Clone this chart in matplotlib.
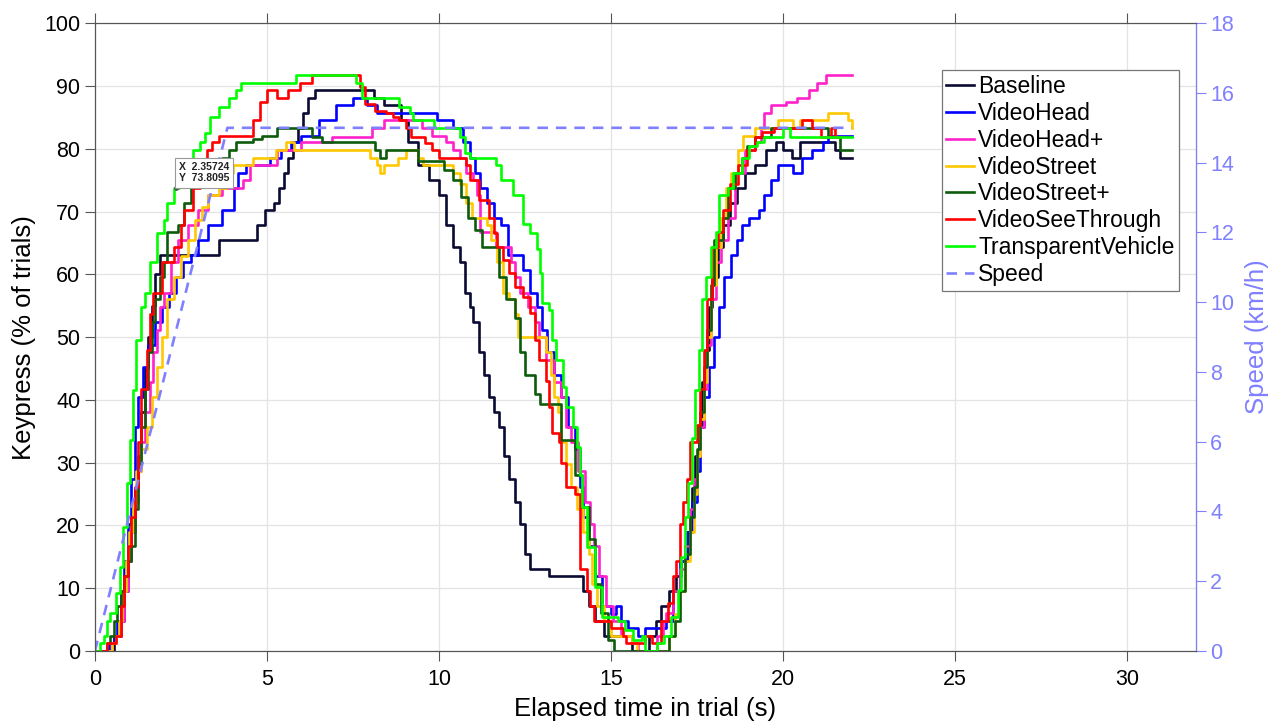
import matplotlib
matplotlib.use("Agg")
import matplotlib.pyplot as plt
import numpy as np

plt.rcParams['font.family'] = ['Liberation Sans', 'DejaVu Sans']

# (time s, keypress %) change points for each condition
baseline = [(0, 0), (0.55, 2.4), (0.75, 4.8), (0.85, 9.5), (0.95, 14.3), (1.05, 19), (1.15, 26), (1.25, 31),
            (1.35, 38), (1.45, 45), (1.55, 50), (1.65, 55), (1.75, 60), (1.9, 63.1), (3.6, 65.5), (4.7, 67.9),
            (4.95, 70.2), (5.2, 71.4), (5.35, 73.8), (5.5, 76.2), (5.6, 78.6), (5.75, 81), (5.9, 83.3),
            (6.05, 85.7), (6.2, 88.1), (6.4, 89.3), (8.1, 88.1), (8.4, 86.9), (8.9, 84.5), (9.1, 81), (9.4, 77.4),
            (9.7, 75), (10.0, 72.6), (10.2, 67.9), (10.4, 64.3), (10.6, 61.9), (10.75, 57.1), (10.9, 54.8),
            (11.0, 52.4), (11.15, 47.6), (11.3, 44), (11.45, 40.5), (11.6, 38.1), (11.75, 35.7), (11.9, 31),
            (12.05, 27.4), (12.2, 23.8), (12.35, 20.2), (12.5, 15.5), (12.65, 13.1), (13.2, 11.9), (14.2, 9.5),
            (14.35, 7.1), (14.55, 4.8), (14.8, 2.4), (15.6, 0), (16.1, 2.4), (16.3, 4.8), (16.45, 7.1),
            (16.7, 9.5), (16.9, 11.9), (17.05, 14.3), (17.2, 19), (17.35, 26), (17.45, 31), (17.55, 36),
            (17.65, 42.9), (17.75, 48), (17.85, 54.8), (17.95, 59.5), (18.1, 64.3), (18.25, 67.9), (18.45, 71.4),
            (18.65, 73.8), (18.9, 76.2), (19.2, 77.4), (19.5, 79.8), (19.8, 81), (20.0, 79.8), (20.25, 78.6),
            (20.5, 81), (21.5, 79.8), (21.65, 78.6), (22.0, 78.6)]

video_head = [(0, 0), (0.4, 1.2), (0.55, 2.4), (0.65, 4.8), (0.75, 9.5), (0.85, 14.3), (0.95, 20.2), (1.05, 27.4),
              (1.15, 35.7), (1.25, 40.5), (1.4, 45.2), (1.55, 48.8), (1.75, 52.4), (1.95, 54.8), (2.15, 57.1),
              (2.35, 59.5), (2.55, 61.9), (2.8, 63.1), (3.0, 65.5), (3.3, 67.9), (3.7, 70.2), (4.05, 73.8),
              (4.15, 76.2), (4.4, 77.4), (5.1, 78.6), (5.4, 79.8), (5.7, 81), (6.0, 82.1), (6.5, 84.5),
              (7.0, 86.9), (7.5, 88.1), (7.9, 86.9), (8.2, 85.7), (9.95, 84.5), (10.4, 83.3), (10.7, 81),
              (10.9, 78.6), (11.05, 76.2), (11.2, 73.8), (11.4, 71.4), (11.6, 69), (11.8, 67.9), (12.0, 63.1),
              (12.45, 60.7), (12.65, 57.1), (12.85, 54.8), (13.0, 51.2), (13.15, 47.6), (13.35, 44),
              (13.55, 40.5), (13.75, 35.7), (13.95, 32.1), (14.1, 26.2), (14.2, 21.4), (14.35, 16.7),
              (14.55, 11.9), (14.75, 7.1), (15.0, 5.9), (15.15, 7.1), (15.3, 4.8), (15.5, 3.6), (15.8, 2.4),
              (16.0, 3.6), (16.6, 4.8), (16.8, 9.5), (17.0, 14.3), (17.2, 19), (17.35, 23.8), (17.5, 28.6),
              (17.6, 35.7), (17.7, 40.5), (17.85, 45.2), (18.0, 50), (18.15, 54.8), (18.3, 59.5), (18.5, 63.1),
              (18.65, 65.5), (18.8, 67.9), (19.0, 69), (19.3, 70.2), (19.45, 72.6), (19.65, 75), (19.85, 77.4),
              (20.3, 76.2), (20.55, 78.6), (20.85, 79.8), (21.15, 81), (21.3, 82.1), (22.0, 82.1)]

video_head_plus = [(0, 0), (0.5, 1.2), (0.62, 2.4), (0.75, 4.8), (0.85, 9.5), (0.95, 14.3), (1.05, 19),
                   (1.15, 23.8), (1.25, 28.6), (1.35, 33.3), (1.45, 38.1), (1.6, 42.9), (1.7, 47.6), (1.8, 51.2),
                   (1.9, 54.8), (2.0, 57.1), (2.2, 61.9), (2.4, 65.5), (2.7, 67.9), (3.0, 70.2), (3.3, 72.6),
                   (3.7, 73.8), (4.3, 75), (4.5, 77.4), (5.3, 79.8), (6.0, 81), (6.9, 81.8), (8.05, 83.3),
                   (8.4, 84.5), (9.5, 83.3), (9.8, 82.1), (10.2, 81), (10.4, 79.8), (10.6, 78.6), (10.8, 76.2),
                   (11.0, 75), (11.1, 72.6), (11.2, 66.7), (11.65, 64.3), (12.1, 61.9), (12.2, 59.5),
                   (12.35, 57.1), (12.6, 54.8), (12.8, 52.4), (12.9, 50), (13.1, 46.4), (13.35, 42.9),
                   (13.55, 40.5), (13.7, 35.7), (13.85, 33.3), (14.05, 28.6), (14.25, 23.8), (14.4, 20.2),
                   (14.5, 16.7), (14.65, 11.9), (14.85, 7.1), (15.05, 4.8), (15.3, 2.4), (15.6, 1.2), (15.8, 0),
                   (16.35, 2.4), (16.5, 4.8), (16.6, 6), (16.8, 9.5), (17.0, 13.1), (17.15, 16.7), (17.3, 22.6),
                   (17.4, 27.4), (17.5, 31), (17.6, 35.7), (17.7, 41.7), (17.8, 48.8), (17.9, 56), (18.05, 61.9),
                   (18.2, 65.5), (18.4, 69), (18.6, 76.2), (18.9, 79.8), (19.2, 81), (19.35, 83.3), (19.45, 85.7),
                   (19.65, 86.9), (20.1, 87.5), (20.4, 88.1), (20.75, 89.3), (21.0, 90.5), (21.25, 91.7),
                   (22.0, 91.7)]

video_street = [(0, 0), (0.5, 1.2), (0.6, 2.4), (0.7, 4.8), (0.8, 9.5), (0.9, 14.3), (1.0, 19), (1.1, 23.8),
                (1.2, 28.6), (1.35, 32.1), (1.5, 35.7), (1.65, 40.5), (1.8, 45.2), (1.95, 50), (2.1, 56),
                (2.3, 59.5), (2.5, 62.9), (2.7, 65.5), (2.9, 68.6), (3.1, 70.7), (3.3, 72.6), (3.6, 73.8),
                (3.85, 76.2), (4.0, 77.4), (4.6, 78.6), (5.25, 79.8), (5.55, 81), (5.8, 79.8), (8.0, 78.6),
                (8.2, 77.4), (8.3, 76.2), (8.4, 77.4), (8.8, 78.6), (9.05, 79.8), (9.4, 78.6), (9.55, 77.4),
                (10.4, 76.2), (10.6, 74.4), (10.8, 71.4), (10.95, 69), (11.4, 67.9), (11.5, 65.5), (11.7, 61.9),
                (11.85, 57.1), (12.05, 56), (12.2, 53.6), (12.3, 50), (12.95, 50), (13.1, 47.6), (13.25, 44),
                (13.35, 40.5), (13.45, 38.1), (13.55, 33.3), (13.7, 29.8), (13.85, 26.2), (14.0, 22.6),
                (14.2, 19), (14.35, 15.5), (14.45, 10.7), (14.6, 7.1), (14.8, 4.8), (15.0, 2.4), (15.6, 1.2),
                (15.75, 0), (16.7, 2.4), (16.85, 5.9), (17.0, 9.5), (17.15, 14.3), (17.3, 19), (17.4, 25),
                (17.5, 31), (17.6, 36.9), (17.7, 42.9), (17.8, 50), (17.9, 58.3), (18.05, 64.3), (18.2, 69),
                (18.35, 73.8), (18.5, 76.2), (18.7, 79.8), (18.85, 82.1), (19.2, 83.3), (19.85, 84.5),
                (20.3, 83.3), (20.5, 84.5), (21.3, 85.7), (21.9, 84.5), (22.0, 83.3)]

video_street_plus = [(0, 0), (0.35, 1.2), (0.45, 2.4), (0.55, 4.8), (0.65, 7.1), (0.75, 9.5), (0.85, 11.9),
                     (0.95, 14.3), (1.05, 16.7), (1.15, 22.6), (1.25, 29.8), (1.35, 35.7), (1.45, 41.7),
                     (1.55, 47.6), (1.65, 52.4), (1.75, 56), (1.9, 59.5), (2.0, 61.9), (2.1, 66.7), (2.4, 67.9),
                     (2.6, 71.4), (2.8, 75), (2.9, 77.4), (3.7, 78.6), (3.9, 79.8), (4.1, 81), (4.6, 81.5),
                     (4.85, 82.1), (5.3, 83.3), (6.3, 81.8), (6.6, 81), (8.15, 79.8), (8.3, 78.6), (8.45, 79.8),
                     (9.4, 78.1), (10.15, 76.6), (10.4, 75), (10.65, 72.3), (10.85, 69), (11.05, 67),
                     (11.25, 64.3), (11.75, 59.5), (11.95, 56), (12.2, 53), (12.35, 47.6), (12.5, 44),
                     (12.8, 41), (12.95, 39.3), (13.55, 33.6), (13.95, 28), (14.15, 23), (14.35, 17.9),
                     (14.55, 10.7), (14.7, 6), (14.9, 1.7), (15.1, 0), (16.7, 2.4), (16.85, 4.8), (17.0, 9.5),
                     (17.15, 15.5), (17.3, 21.4), (17.4, 26.2), (17.5, 32.1), (17.6, 38.1), (17.7, 45.2),
                     (17.8, 51.2), (17.9, 58.3), (18.0, 65.5), (18.25, 69), (18.4, 73.8), (18.6, 76.2),
                     (18.8, 78.6), (18.95, 80.4), (19.2, 81.8), (19.65, 83.3), (21.3, 81.8), (21.65, 79.8),
                     (22.0, 79.8)]

video_see_through = [(0, 0), (0.35, 1.2), (0.6, 2.4), (0.75, 7.1), (0.85, 11.9), (0.95, 16.7), (1.05, 21.4),
                     (1.15, 26.2), (1.25, 33.3), (1.35, 41.7), (1.5, 48), (1.6, 53.6), (1.7, 57.1), (1.95, 61.9),
                     (2.3, 64.3), (2.5, 67.9), (2.6, 70.2), (2.85, 73.8), (3.05, 76.2), (3.25, 79.8), (3.4, 81),
                     (3.6, 82.1), (4.6, 84.5), (4.8, 87.4), (5.0, 89.3), (5.3, 88.1), (5.6, 89.3), (5.95, 90.5),
                     (6.3, 91.7), (7.4, 91.7), (7.7, 89.8), (7.85, 87.2), (8.15, 86), (8.45, 85.7), (8.65, 85),
                     (8.85, 84.5), (9.05, 83.3), (9.2, 81.8), (9.6, 80.9), (9.8, 79.8), (10.0, 78.6),
                     (10.8, 77.4), (10.9, 75), (11.15, 71.8), (11.45, 69), (11.6, 66.5), (11.7, 64.3),
                     (11.85, 62.3), (12.05, 60.2), (12.2, 58), (12.45, 56.4), (12.65, 53.8), (12.8, 49.5),
                     (12.9, 46.3), (13.1, 43), (13.2, 38.9), (13.3, 34.7), (13.5, 33.3), (13.55, 30),
                     (13.7, 26.2), (13.95, 25), (14.1, 13.1), (14.3, 9.5), (14.4, 7.1), (14.5, 4.8),
                     (14.9, 4.8), (15.0, 3.6), (15.35, 2.4), (15.45, 1.2), (16.0, 2.4), (16.2, 1.2),
                     (16.45, 4.8), (16.65, 7.6), (16.8, 11.9), (16.9, 14.3), (17.0, 20.2), (17.1, 23.8),
                     (17.2, 27.4), (17.3, 33.3), (17.5, 36), (17.6, 41.7), (17.7, 48), (17.8, 56), (17.95, 64.3),
                     (18.1, 66.7), (18.25, 70.2), (18.45, 74.4), (18.7, 77.4), (18.95, 79.8), (19.2, 81.8),
                     (19.4, 82.6), (19.75, 83.3), (20.55, 84.5), (20.85, 83.3), (21.1, 81.8), (21.4, 83.3),
                     (21.5, 81.8), (21.7, 81.8)]

transparent_vehicle = [(0, 0), (0.15, 1.2), (0.25, 2.4), (0.35, 4.8), (0.45, 6), (0.6, 9.2), (0.72, 13.4),
                       (0.82, 19.7), (0.92, 26.7), (1.02, 33.6), (1.12, 41.5), (1.2, 49.5), (1.35, 54.8),
                       (1.45, 57.1), (1.6, 61.9), (1.8, 66.5), (2.0, 68.6), (2.1, 71.4), (2.3, 73.8), (2.45, 78.2),
                       (2.85, 79.8), (3.05, 81), (3.2, 82.5), (3.35, 85), (3.6, 86.6), (3.9, 88.1), (4.1, 89.3),
                       (4.25, 90.5), (5.85, 91.7), (7.6, 90.5), (7.75, 88.1), (8.85, 86.6), (9.15, 85.7),
                       (9.25, 84.5), (9.85, 83.3), (10.6, 81.8), (10.75, 79.3), (10.9, 78.6), (11.65, 77.4),
                       (11.8, 75), (12.15, 72.6), (12.45, 68), (12.65, 66.5), (12.85, 64), (12.95, 60.2),
                       (13.0, 55.4), (13.2, 54.3), (13.3, 49.5), (13.4, 46.3), (13.6, 42), (13.7, 38.9),
                       (13.9, 35.7), (14.0, 32.5), (14.1, 28), (14.15, 23), (14.3, 16.6), (14.55, 10.2),
                       (14.75, 5.4), (15.2, 4.8), (15.4, 3.3), (15.65, 1.7), (15.9, 2.4), (16.0, 0), (16.35, 1.2),
                       (16.55, 2.4), (16.75, 5.4), (16.95, 9.7), (17.05, 15), (17.15, 21.4), (17.25, 26.7),
                       (17.35, 34), (17.45, 41.5), (17.55, 48), (17.65, 56), (17.75, 59.6), (17.9, 64.3),
                       (18.05, 66.7), (18.15, 72.6), (18.4, 73.8), (18.55, 76.2), (18.8, 78.6), (19.0, 80.4),
                       (19.25, 81), (19.45, 81.8), (20.0, 83.3), (20.2, 81.8), (22.0, 81.8)]

speed_t = [0, 3.85, 22.0]
speed_kmh = [0, 15, 15]

labels = ['Baseline', 'VideoHead', 'VideoHead+', 'VideoStreet', 'VideoStreet+', 'VideoSeeThrough',
          'TransparentVehicle']
colors = ['#0a0a33', '#0000ff', '#ff22cc', '#ffc800', '#0d5c0d', '#ff0000', '#00ff00']
series = [baseline, video_head, video_head_plus, video_street, video_street_plus, video_see_through,
          transparent_vehicle]

speed_color = '#8080ff'

fig = plt.figure(figsize=(12.83, 7.24), dpi=100)
ax = fig.add_axes([0.074, 0.1008, 0.858, 0.8672])
ax2 = ax.twinx()

handles = []
for data, lab, col in zip(series, labels, colors):
    arr = np.array(data)
    h, = ax.plot(arr[:, 0], arr[:, 1], drawstyle='steps-post', color=col, lw=1.9, label=lab)
    handles.append(h)

hs, = ax2.plot(speed_t, speed_kmh, '--', color=speed_color, lw=1.9, dashes=(4, 3), label='Speed')
handles.append(hs)

ax.set_xlim(0, 32)
ax.set_ylim(0, 100)
ax.set_xticks(np.arange(0, 31, 5))
ax.set_yticks(np.arange(0, 101, 10))
ax2.set_ylim(0, 18)
ax2.set_yticks(np.arange(0, 19, 2))

ax.grid(True, color='#e3e3e3', lw=0.9)
ax.set_axisbelow(True)
ax.tick_params(axis='both', labelsize=15.5, direction='out', length=7, color='#555555', top=True)
ax.tick_params(axis='x', pad=6)
ax2.tick_params(axis='y', labelsize=15.5, direction='out', length=7, colors=speed_color)
for s in ['left', 'bottom', 'top']:
    ax.spines[s].set_color('#555555')
ax2.spines['right'].set_color(speed_color)
ax2.spines['left'].set_color('#555555')
ax2.spines['top'].set_color('#555555')
ax2.spines['bottom'].set_color('#555555')

ax.set_xlabel('Elapsed time in trial (s)', fontsize=18.5, labelpad=5)
ax.set_ylabel('Keypress (% of trials)', fontsize=18.5, labelpad=6)
ax2.set_ylabel('Speed (km/h)', fontsize=18.5, color=speed_color, labelpad=8)

leg = ax2.legend(handles=handles, loc='upper right', bbox_to_anchor=(0.985, 0.925), fontsize=16.5,
                 frameon=True, fancybox=False, edgecolor='#777777', framealpha=1,
                 handlelength=1.2, handletextpad=0.2, labelspacing=0.17, borderpad=0.2, borderaxespad=0)
leg.get_frame().set_linewidth(0.9)

# data tip, drawn on the right axes so it sits above every line
tip_x, tip_y = 2.35724, 73.8095
tip_y2 = tip_y * 18 / 100
ax2.plot([tip_x], [tip_y2], 'o', ms=2.5, color='#555555', zorder=19)
ax2.annotate(f'X  {tip_x}\nY  {tip_y}', xy=(tip_x, tip_y2), xytext=(2, 3), textcoords='offset points',
             fontsize=7.5, color='#222222', fontweight='bold', ha='left', va='bottom', zorder=20,
             bbox=dict(boxstyle='square,pad=0.4', fc='white', ec='#999999', lw=0.8))

fig.savefig('out.png', dpi=100)
